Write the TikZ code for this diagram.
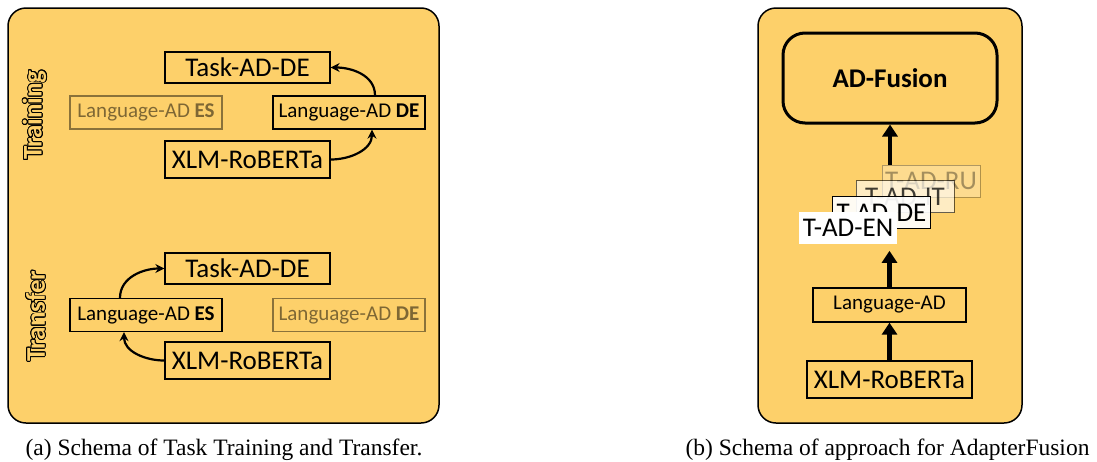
\documentclass[tikz,border=0pt]{standalone}
\usepackage{fontspec}
\setmainfont{Carlito}
\newfontfamily\capfont{Liberation Serif}
\usepackage{contour}
\contourlength{0.9pt}
\usetikzlibrary{arrows.meta,positioning}
\definecolor{panel}{RGB}{253,208,106}
\newcommand\bigtxt{\fontsize{27}{30}\selectfont}
\newcommand\smalltxt{\fontsize{21}{24}\selectfont}
\newcommand\captxt{\capfont\fontsize{23.5}{26}\selectfont}

\begin{document}
\begin{tikzpicture}[x=1pt,y=-1pt,on grid,
    panelbox/.style={draw,line width=1.5pt,fill=panel,rounded corners=18pt},
    big/.style={draw,line width=1.3pt,inner sep=0pt,minimum width=165pt,minimum height=31pt,font=\bigtxt},
    lang/.style={draw,line width=1.3pt,inner sep=0pt,minimum width=152pt,minimum height=33pt,font=\smalltxt},
    faded/.style={draw opacity=0.45,text opacity=0.5},
    tad/.style={draw,fill=white,line width=1pt,inner sep=0pt,minimum width=98pt,minimum height=32pt,font=\bigtxt},
    curvy/.style={->,line width=2.2pt,>={Stealth[length=9pt,width=9pt]}},
    fat/.style={->,line width=4.5pt,>={Triangle[length=12pt,width=15pt]}}]
    \useasboundingbox (0,0) rectangle (1097,461);
    \draw[panelbox] (8,8) rectangle (439,423);
    \draw[panelbox] (758,8) rectangle (1022,423);

    % training
    \node[rotate=90,font=\bigtxt\bfseries] (lbl_train) at (35,115) {\contour{black}{\textcolor{panel}{Training}}};
    \node[big] (task_t) at (247.5,67.5) {Task-AD-DE};
    \node[big,minimum height=37pt] (xlm_t) [below=92pt of task_t] {XLM-RoBERTa};
    \node[lang,faded] (lang_es_t) at (146,112.5) {Language-AD \textbf{ES}};
    \node[lang] (lang_de_t) at (349,112.5) {Language-AD \textbf{DE}};
    \path[curvy]
        (xlm_t.east) edge[out=0,in=-90] ([xshift=23pt]lang_de_t.south)
        ([xshift=26pt]lang_de_t.north) edge[out=90,in=0] (task_t.east);

    % transfer
    \node[rotate=90,font=\bigtxt\bfseries] (lbl_trans) at (36,316) {\contour{black}{\textcolor{panel}{Transfer}}};
    \node[big] (task_r) at (247.5,268.5) {Task-AD-DE};
    \node[big,minimum height=37pt] (xlm_r) [below=92pt of task_r] {XLM-RoBERTa};
    \node[lang] (lang_es_r) at (146,315) {Language-AD \textbf{ES}};
    \node[lang,faded] (lang_de_r) at (349,315) {Language-AD \textbf{DE}};
    \path[curvy]
        (xlm_r.west) edge[out=180,in=-90] ([xshift=-22pt]lang_es_r.south)
        ([xshift=-26pt]lang_es_r.north) edge[out=90,in=180] (task_r.west);

    % fusion
    \node[draw,line width=3pt,rounded corners=22pt,minimum width=214pt,minimum height=90pt,font=\bigtxt\bfseries] (fusion) at (890,78) {AD-Fusion};
    \node[tad,fill opacity=0.25,draw opacity=0.3,text opacity=0.35] (tad_ru) at (931,181) {T-AD-RU};
    \node[tad,fill opacity=0.6,draw opacity=0.6,text opacity=0.75] (tad_it) at (905,196.5) {T-AD-IT};
    \node[tad,fill opacity=0.92,text opacity=1] (tad_de) at (881.5,212.5) {T-AD-DE};
    \node[tad,draw=none] (tad_en) at (848,228.3) {T-AD-EN};
    \node[lang,minimum width=153pt,minimum height=34pt] (lang) at (889.5,305) {Language-AD};
    \node[big,minimum height=37pt] (xlm) at (889.5,379.5) {XLM-RoBERTa};
    \path[fat]
        (xlm.north) edge (lang.south)
        (lang.north) edge[shorten >=6pt] (lang.north |- tad_en.south)
        (fusion.south |- tad_ru.north) edge (fusion.south);

    \node[font=\captxt,anchor=base] (cap_a) at (224,455) {(a) Schema of Task Training and Transfer.};
    \node[font=\captxt,anchor=base] (cap_b) at (887.5,455) {(b) Schema of approach for AdapterFusion};
\end{tikzpicture}
\end{document}
